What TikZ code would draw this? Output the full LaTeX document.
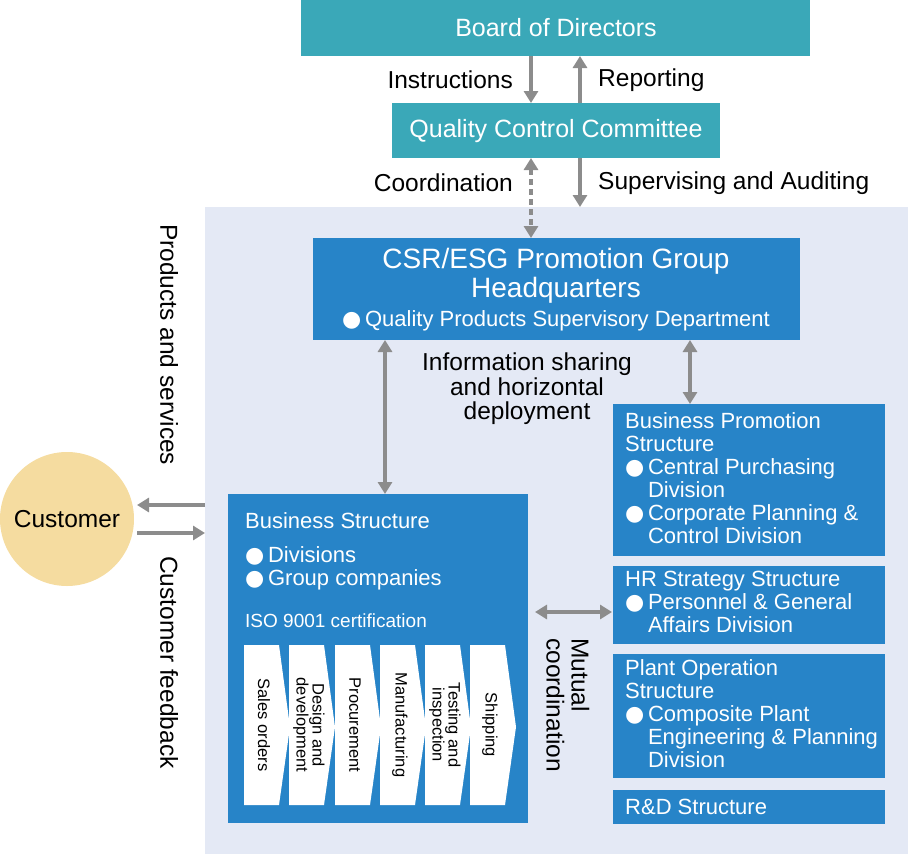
\documentclass[tikz,border=0pt]{standalone}
\usepackage{fontspec}
\setmainfont{Liberation Sans}
\newfontfamily\dv{DejaVu Sans}
\usetikzlibrary{arrows.meta}
\definecolor{teal1}{HTML}{3AA8B8}
\definecolor{blue1}{HTML}{2784C8}
\definecolor{bg1}{HTML}{E4E9F5}
\definecolor{cust}{HTML}{F5DCA0}
\definecolor{arr}{HTML}{8C8C8C}
\newcommand{\bul}{{\dv\char"25CF}\,}
\begin{document}
\begin{tikzpicture}[x=1pt,y=-1pt,
  ar/.style={draw=arr,line width=3.5pt,-{Triangle[length=12pt,width=14pt]}},
  dar/.style={draw=arr,line width=3.5pt,{Triangle[length=12pt,width=14pt]}-{Triangle[length=12pt,width=14pt]}},
  lab/.style={font=\fontsize{24.5}{28}\selectfont,inner sep=0},
  wt/.style={text=white,inner sep=0,anchor=north west,align=left,font=\fontsize{22}{23}\selectfont}]
\useasboundingbox (0,0) rectangle (908,854);
\fill[bg1] (205,207) rectangle (908,854);
% top boxes
\fill[teal1] (301,0) rectangle (810,56);
\node[lab,text=white,font=\fontsize{25}{28}\selectfont] (bod) at (556,28) {Board of Directors};
\fill[teal1] (392,103) rectangle (720,158);
\node[lab,text=white,font=\fontsize{25}{28}\selectfont] (qcc) at (556,131) {Quality Control Committee};
\coordinate (b1) at (531,56); \coordinate (q1) at (531,103);
\coordinate (b2) at (580,56); \coordinate (q2) at (580,103);
\draw[ar] (b1) -- (q1);
\draw[ar] (q2) -- (b2);
\node[lab,anchor=east] (ins) at (513,80) {Instructions};
\node[lab,anchor=west] (rep) at (598,80) {Reporting};
\coordinate (q3) at (531,158); \coordinate (c3) at (531,238);
\coordinate (q4) at (580,158); \coordinate (c4) at (580,207);
\draw[dar,dash pattern=on 6pt off 4pt] (q3) -- (c3);
\draw[ar] (q4) -- (c4);
\node[lab,anchor=east] (coo) at (513,183) {Coordination};
\node[lab,anchor=west] (sup) at (598,183) {Supervising and Auditing};
% CSR
\fill[blue1] (313,238) rectangle (800,340);
\node[text=white,align=center,inner sep=0,font=\fontsize{28}{29}\selectfont] (csr) at (556,276) {CSR/ESG Promotion Group\\Headquarters};
\node[wt,anchor=center] (qps) at (556,321) {\bul Quality Products Supervisory Department};
% business structure
\fill[blue1] (228,494) rectangle (528,823);
\node[wt] (bs) at (245,512) {Business Structure};
\node[wt] (bsl) at (245,546) {\bul Divisions\\\bul Group companies};
\node[wt,font=\fontsize{19}{22}\selectfont] (iso) at (245,614) {ISO 9001 certification};
\foreach \x/\t [count=\i] in {244/Sales orders,289/{Design and\\development},335/Procurement,380/Manufacturing,425/{Testing and\\inspection},470/Shipping}{
  \fill[white] (\x,645) -- (\x+35,645) -- (\x+46,727) -- (\x+35,805) -- (\x,805) -- cycle;
  \node[rotate=-90,align=center,inner sep=0,font=\fontsize{16.5}{16}\selectfont] (p\i) at (\x+20,725) {\t};
}
% right boxes
\fill[blue1] (613,404) rectangle (885,556);
\node[wt] (bp) at (625,412) {Business Promotion\\Structure\\\bul Central Purchasing\\\phantom{\bul}Division\\\bul Corporate Planning \&\\\phantom{\bul}Control Division};
\fill[blue1] (613,566) rectangle (885,644);
\node[wt] (hr) at (625,571) {HR Strategy Structure\\\bul Personnel \& General\\\phantom{\bul}Affairs Division};
\fill[blue1] (613,654) rectangle (885,778);
\node[wt] (po) at (625,659) {Plant Operation\\Structure\\\bul Composite Plant\\\phantom{\bul}Engineering \& Planning\\\phantom{\bul}Division};
\fill[blue1] (613,790) rectangle (885,824);
\node[wt,anchor=west] (rd) at (625,807) {R\&D Structure};
% connections
\coordinate (c5) at (385,340); \coordinate (bs5) at (385,494);
\draw[dar] (c5) -- (bs5);
\coordinate (c6) at (690,340); \coordinate (bp6) at (690,404);
\draw[dar] (c6) -- (bp6);
\node[lab,align=center,font=\fontsize{24.5}{24.5}\selectfont] (info) at (527,389) {Information sharing\\and horizontal\\deployment};
\coordinate (m1) at (535,612); \coordinate (m2) at (612,612);
\draw[dar] (m1) -- (m2);
\node[lab,rotate=-90,align=left,font=\fontsize{24.5}{25}\selectfont] (mut) at (568,705) {Mutual\\coordination};
% customer
\node[circle,fill=cust,minimum size=134pt,inner sep=0,font=\fontsize{24.5}{28}\selectfont] (cus) at (67,519) {Customer};
\coordinate (l1) at (205,505); \coordinate (l2) at (137,505);
\coordinate (r1) at (137,533); \coordinate (r2) at (205,533);
\draw[ar] (l1) -- (l2);
\draw[ar] (r1) -- (r2);
\node[lab,rotate=-90,anchor=south west] (ps) at (160,224) {Products and services};
\node[lab,rotate=-90,anchor=south west] (cf) at (160,556) {Customer feedback};
\end{tikzpicture}
\end{document}
